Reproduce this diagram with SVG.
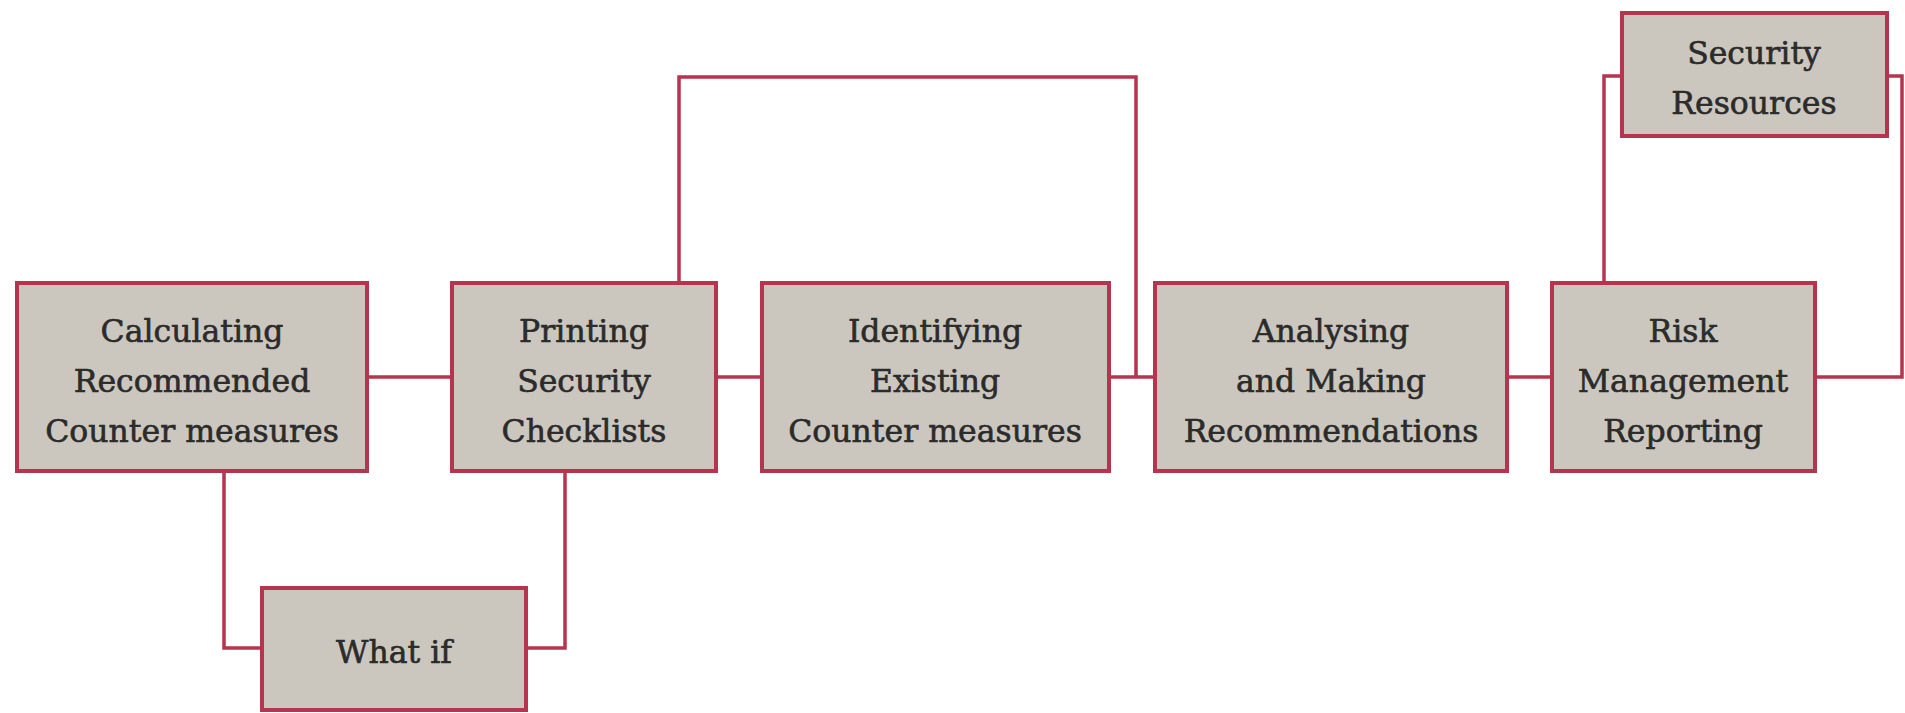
<svg xmlns="http://www.w3.org/2000/svg" width="1905" height="713" viewBox="0 0 1905 713">
<style>
.box{fill:#cbc7be;stroke:#b5344e;stroke-width:4}
.lbl{font-family:"DejaVu Serif","Liberation Serif",serif;font-size:31.5px;fill:#2b2b2b;stroke:#2b2b2b;stroke-width:0.6;text-anchor:middle}
.con{fill:none;stroke:#b5344e;stroke-width:3.5}
</style>
<rect width="1905" height="713" fill="#ffffff"/>
<g id="connectors">
<path class="con" d="M367 377H452"/>
<path class="con" d="M716 377H762"/>
<path class="con" d="M1109 377H1155"/>
<path class="con" d="M1507 377H1552"/>
<path class="con" d="M679 283V77H1136V377"/>
<path class="con" d="M224 471V648H262"/>
<path class="con" d="M565 471V648H526"/>
<path class="con" d="M1604 283V76H1622"/>
<path class="con" d="M1887 76H1902V377H1815"/>
</g>
<g id="n1">
<rect class="box" x="17" y="283" width="350" height="188"/>
<text class="lbl" x="192" y="342">Calculating</text>
<text class="lbl" x="192" y="392">Recommended</text>
<text class="lbl" x="192" y="442">Counter measures</text>
</g>
<g id="n2">
<rect class="box" x="452" y="283" width="264" height="188"/>
<text class="lbl" x="584" y="342">Printing</text>
<text class="lbl" x="584" y="392">Security</text>
<text class="lbl" x="584" y="442">Checklists</text>
</g>
<g id="n3">
<rect class="box" x="762" y="283" width="347" height="188"/>
<text class="lbl" x="935" y="342">Identifying</text>
<text class="lbl" x="935" y="392">Existing</text>
<text class="lbl" x="935" y="442">Counter measures</text>
</g>
<g id="n4">
<rect class="box" x="1155" y="283" width="352" height="188"/>
<text class="lbl" x="1331" y="342">Analysing</text>
<text class="lbl" x="1331" y="392">and Making</text>
<text class="lbl" x="1331" y="442">Recommendations</text>
</g>
<g id="n5">
<rect class="box" x="1552" y="283" width="263" height="188"/>
<text class="lbl" x="1683" y="342">Risk</text>
<text class="lbl" x="1683" y="392">Management</text>
<text class="lbl" x="1683" y="442">Reporting</text>
</g>
<g id="n6">
<rect class="box" x="1622" y="13" width="265" height="123"/>
<text class="lbl" x="1754" y="64">Security</text>
<text class="lbl" x="1754" y="114">Resources</text>
</g>
<g id="n7">
<rect class="box" x="262" y="588" width="264" height="122"/>
<text class="lbl" x="394" y="663">What if</text>
</g>
</svg>
